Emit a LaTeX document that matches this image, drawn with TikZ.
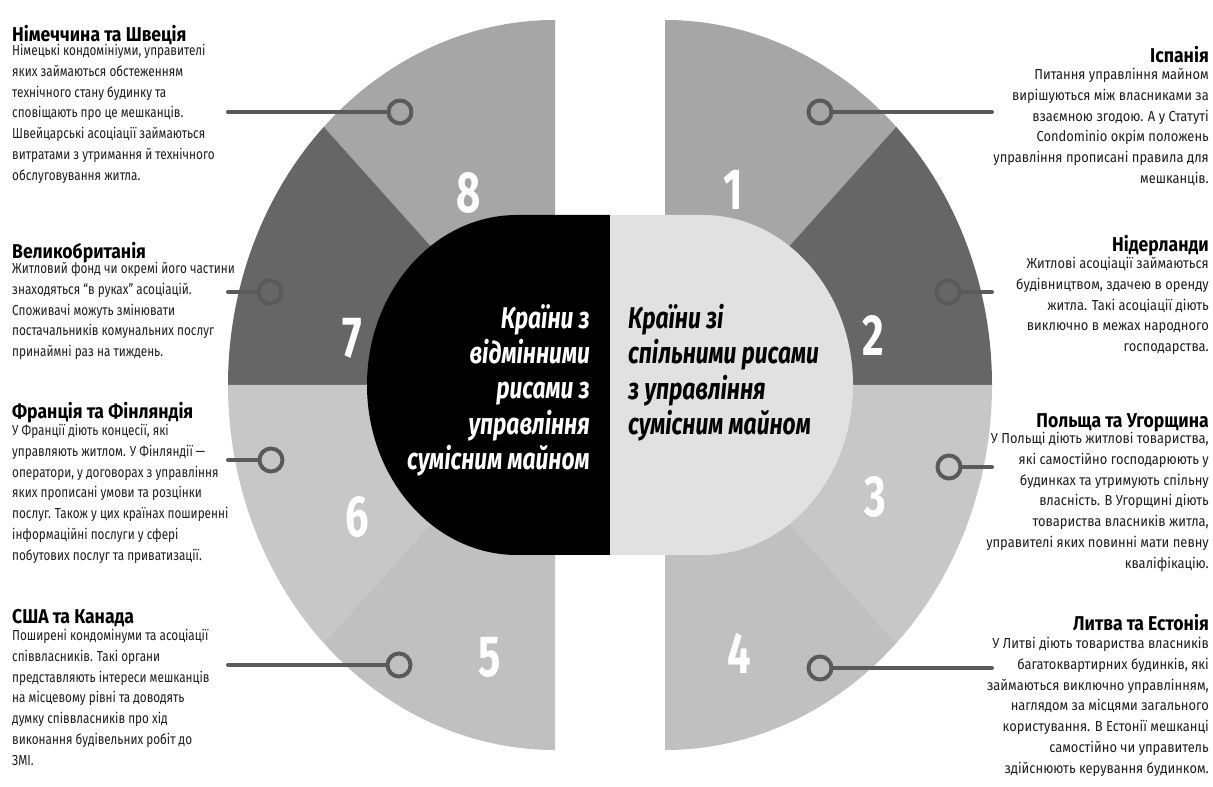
\documentclass[tikz,border=0pt]{standalone}
\usepackage{fontspec}
\setmainfont{Fira Sans}
\newfontfamily\bodyfont{Fira Sans}[FakeStretch=0.81]
\newfontfamily\rbodyfont{Fira Sans}[FakeStretch=0.89]
\newfontfamily\headfont{Fira Sans}[FakeStretch=0.88]
\newfontfamily\capfont{Fira Sans}[FakeStretch=0.76]
\newfontfamily\numfont{Fira Sans}[FakeStretch=0.72]
\usetikzlibrary{positioning, calc}

\definecolor{sectmid}{HTML}{A6A6A6}
\definecolor{sectdark}{HTML}{666666}
\definecolor{sectlight}{HTML}{C7C7C7}
\definecolor{sectpale}{HTML}{C0C0C0}
\definecolor{capsulelight}{HTML}{E1E1E1}
\definecolor{leadgray}{HTML}{5A5A5A}
\definecolor{bodygray}{HTML}{1E1E1E}

\begin{document}
\begin{tikzpicture}[
  x=1pt, y=1pt,
  head/.style={
    inner sep=0pt,
    font=\headfont\bfseries\fontsize{20}{24}\selectfont
  },
  body/.style={
    inner sep=0pt,
    text=bodygray,
    execute at begin node=\strut
  },
  lefthead/.style={head, anchor=base west},
  righthead/.style={head, anchor=base east},
  leftbody/.style={body, anchor=north west, align=left,
    font=\bodyfont\fontsize{14.5}{20.8}\selectfont},
  rightbody/.style={body, anchor=north east, align=right,
    font=\rbodyfont\fontsize{14.5}{20.8}\selectfont},
  captext/.style={
    inner sep=0pt,
    font=\capfont\bfseries\itshape\fontsize{30}{35.3}\selectfont,
    execute at begin node=\strut
  },
  num/.style={
    inner sep=0pt,
    text=white,
    font=\numfont\bfseries\fontsize{58}{58}\selectfont
  },
  ring/.style={
    circle,
    draw=leadgray,
    line width=4pt,
    minimum size=23pt,
    inner sep=0pt
  },
  leader/.style={draw=leadgray, line width=4pt, line cap=round}
]

\fill[white] (0,0) rectangle (1213,787);
\useasboundingbox (0,0) rectangle (1213,787);

% Centres of the two halves
\coordinate (lc) at (555,402);
\coordinate (rc) at (665,402);

% Sectors, left half (8, 7, 6, 5)
\foreach \a/\b/\c in {90/135/sectmid, 135/180/sectdark, 180/225/sectlight, 225/270/sectpale}
  \fill[\c] (lc) -- ++(\a:327pt and 365pt)
    arc[start angle=\a, end angle=\b, x radius=327pt, y radius=365pt] -- cycle;

% Sectors, right half (1, 2, 3, 4)
\foreach \a/\b/\c in {90/45/sectmid, 45/0/sectdark, 0/-45/sectlight, -45/-90/sectpale}
  \fill[\c] (rc) -- ++(\a:327pt and 365pt)
    arc[start angle=\a, end angle=\b, x radius=327pt, y radius=365pt] -- cycle;

% Centre capsule
\fill[black] (610,572) -- (517,572)
  arc[start angle=90, end angle=270, x radius=150pt, y radius=170pt] -- (610,232) -- cycle;
\fill[capsulelight] (610,572) -- (703,572)
  arc[start angle=90, end angle=-90, x radius=150pt, y radius=170pt] -- (610,232) -- cycle;

\node[captext, text=white, anchor=north east, align=right] (diff) at (590,483)
  {Країни з\\відмінними\\рисами з\\управління\\сумісним майном};
\node[captext, text=black, anchor=north west, align=left] (common) at (628,483)
  {Країни зі\\спільними рисами\\з управління\\сумісним майном};

% Numbers
\node[num] (n1) at (733,597) {1};
\node[num] (n2) at (873,452) {2};
\node[num] (n3) at (875,290) {3};
\node[num] (n4) at (739,134) {4};
\node[num] (n5) at (490,130) {5};
\node[num] (n6) at (357,270) {6};
\node[num] (n7) at (352,449) {7};
\node[num] (n8) at (469,594) {8};

% Leaders
\node[ring] (c1) at (820,675) {};
\node[ring] (c2) at (948,495) {};
\node[ring] (c3) at (949,320) {};
\node[ring] (c4) at (820,119) {};
\node[ring] (c5) at (399,122) {};
\node[ring] (c6) at (271,327) {};
\node[ring] (c7) at (270,495) {};
\node[ring] (c8) at (400,675) {};

\coordinate (e1) at (992,675);
\coordinate (e2) at (992,495);
\coordinate (e3) at (992,320);
\coordinate (e4) at (992,119);
\coordinate (e5) at (228,122);
\coordinate (e6) at (228,327);
\coordinate (e7) at (228,495);
\coordinate (e8) at (228,675);

\draw[leader] (c1) -- (e1);
\draw[leader] (c2) -- (e2);
\draw[leader] (c3) -- (e3);
\draw[leader] (c4) -- (e4);
\draw[leader] (e5) -- (c5);
\draw[leader] (e6) -- (c6);
\draw[leader] (e7) -- (c7);
\draw[leader] (e8) -- (c8);

% Left column
\node[lefthead] (h8) at (12,745) {Німеччина та Швеція};
\node[leftbody] (b8) at (12,743) {Німецькі кондомініуми, управителі\\яких займаються обстеженням\\технічного стану будинку та\\сповіщають про це мешканців.\\Швейцарські асоціації займаються\\витратами з утримання й технічного\\обслуговування житла.};

\node[lefthead] (h7) at (12,528) {Великобританія};
\node[leftbody] (b7) at (12,525) {Житловий фонд чи окремі його частини\\знаходяться “в руках” асоціацій.\\Споживачі можуть змінювати\\постачальників комунальних послуг\\принаймні раз на тиждень.};

\node[lefthead] (h6) at (12,368) {Франція та Фінляндія};
\node[leftbody] (b6) at (12,363) {У Франції діють концесії, які\\управляють житлом. У Фінляндії —\\оператори, у договорах з управління\\яких прописані умови та розцінки\\послуг. Також у цих країнах поширенні\\інформаційні послуги у сфері\\побутових послуг та приватизації.};

\node[lefthead] (h5) at (12,163) {США та Канада};
\node[leftbody] (b5) at (12,158) {Поширені кондомінуми та асоціації\\співвласників. Такі органи\\представляють інтереси мешканців\\на місцевому рівні та доводять\\думку співвласників про хід\\виконання будівельних робіт до\\ЗМІ.};

% Right column
\node[righthead] (h1) at (1209,724) {Іспанія};
\node[rightbody] (b1) at (1209,719) {Питання управління майном\\вирішуються між власниками за\\взаємною згодою. А у Статуті\\Condominio окрім положень\\управління прописані правила для\\мешканців.};

\node[righthead] (h2) at (1209,535) {Нідерланди};
\node[rightbody] (b2) at (1209,530) {Житлові асоціації займаються\\будівництвом, здачею в оренду\\житла. Такі асоціації діють\\виключно в межах народного\\господарства.};

\node[righthead] (h3) at (1209,359) {Польща та Угорщина};
\node[rightbody] (b3) at (1209,355) {У Польщі діють житлові товариства,\\які самостійно господарюють у\\будинках та утримують спільну\\власність. В Угорщині діють\\товариства власників житла,\\управителі яких повинні мати певну\\кваліфікацію.};

\node[righthead] (h4) at (1209,156) {Литва та Естонія};
\node[rightbody] (b4) at (1209,150) {У Литві діють товариства власників\\багатоквартирних будинків, які\\займаються виключно управлінням,\\наглядом за місцями загального\\користування. В Естонії мешканці\\самостійно чи управитель\\здійснюють керування будинком.};

\end{tikzpicture}
\end{document}
